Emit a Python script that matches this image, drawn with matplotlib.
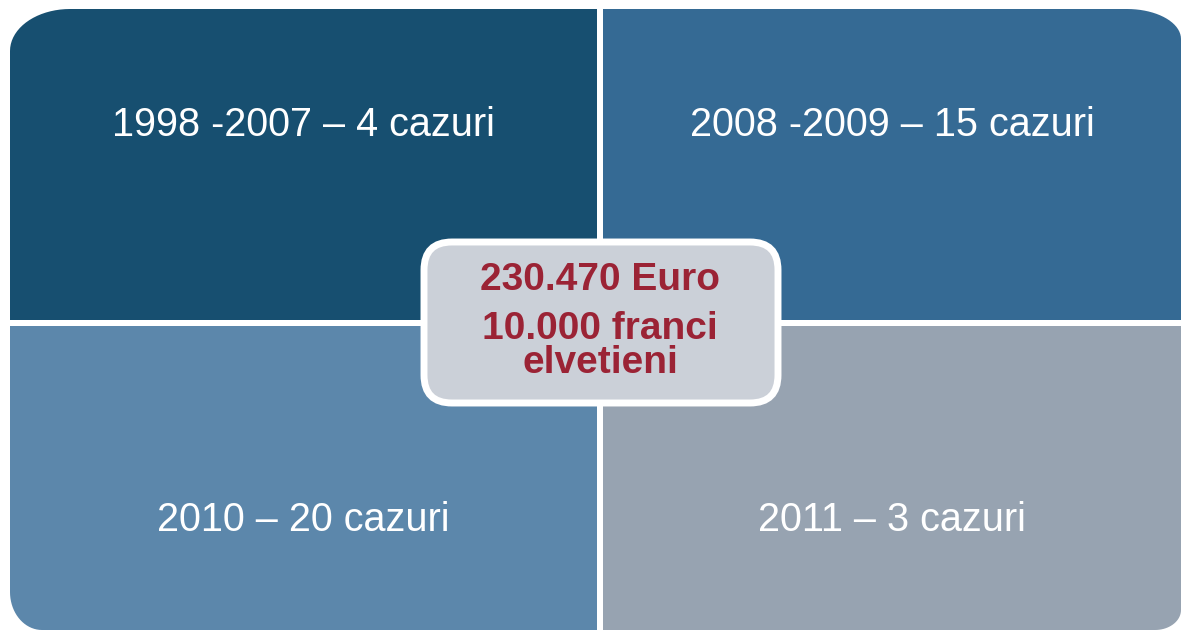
import numpy as np
import matplotlib.pyplot as plt
from matplotlib.path import Path
from matplotlib.patches import PathPatch, Rectangle, FancyBboxPatch

# Text and colours of the four quadrants (TL, TR, BL, BR)
labels = ["1998 -2007 \u2013 4 cazuri", "2008 -2009 \u2013 15 cazuri",
          "2010 \u2013 20 cazuri", "2011 \u2013 3 cazuri"]
colors = ["#174F70", "#356A94", "#5C87AB", "#97A3B1"]
center_lines = ["230.470 Euro", "10.000 franci", "elvetieni"]

W, H = 1183, 631
fig = plt.figure(figsize=(W / 100, H / 100), dpi=100)
ax = fig.add_axes([0, 0, 1, 1])
ax.set_xlim(0, W)
ax.set_ylim(H, 0)
ax.axis("off")


def rounded_rect(x0, y0, x1, y1, radii):
    # radii: (rx, ry) for top-left, top-right, bottom-right, bottom-left
    pts = []
    t = np.linspace(0, np.pi / 2, 20)
    (a, b), (c, d), (e, f), (g, h) = radii
    pts += list(zip(x0 + a - a * np.cos(t), y0 + b - b * np.sin(t)))
    pts += list(zip(x1 - c + c * np.sin(t), y0 + d - d * np.cos(t)))
    pts += list(zip(x1 - e + e * np.cos(t), y1 - f + f * np.sin(t)))
    pts += list(zip(x0 + g - g * np.sin(t), y1 - h + h * np.cos(t)))
    pts.append(pts[0])
    return Path(pts, closed=True)


outer = rounded_rect(10, 9, 1181, 630, [(60, 42), (54, 30), (26, 20), (32, 38)])
clip = PathPatch(outer, transform=ax.transData, facecolor="none", edgecolor="none")
ax.add_patch(clip)

xs = [(10, 597), (603, 1181)]
ys = [(9, 320), (326, 630)]
k = 0
for (y0, y1) in ys:
    for (x0, x1) in xs:
        r = Rectangle((x0, y0), x1 - x0, y1 - y0, facecolor=colors[k], edgecolor="none")
        ax.add_patch(r)
        r.set_clip_path(clip)
        ty = 125 if y0 < 100 else 520
        ax.text((x0 + x1) / 2, ty, labels[k], color="white", fontsize=28.5,
                family="Liberation Sans", ha="center", va="center")
        k += 1

# central box
box = FancyBboxPatch((424, 242), 354, 161, boxstyle="round,pad=0,rounding_size=28",
                     facecolor="#CBD0D8", edgecolor="white", linewidth=5)
ax.add_patch(box)

for txt, cy in zip(center_lines, [280, 329, 363]):
    ax.text(600, cy, txt, color="#9B2335", fontsize=28, fontweight="bold",
            family="Liberation Sans", ha="center", va="center")

fig.savefig("out.png", dpi=100)
